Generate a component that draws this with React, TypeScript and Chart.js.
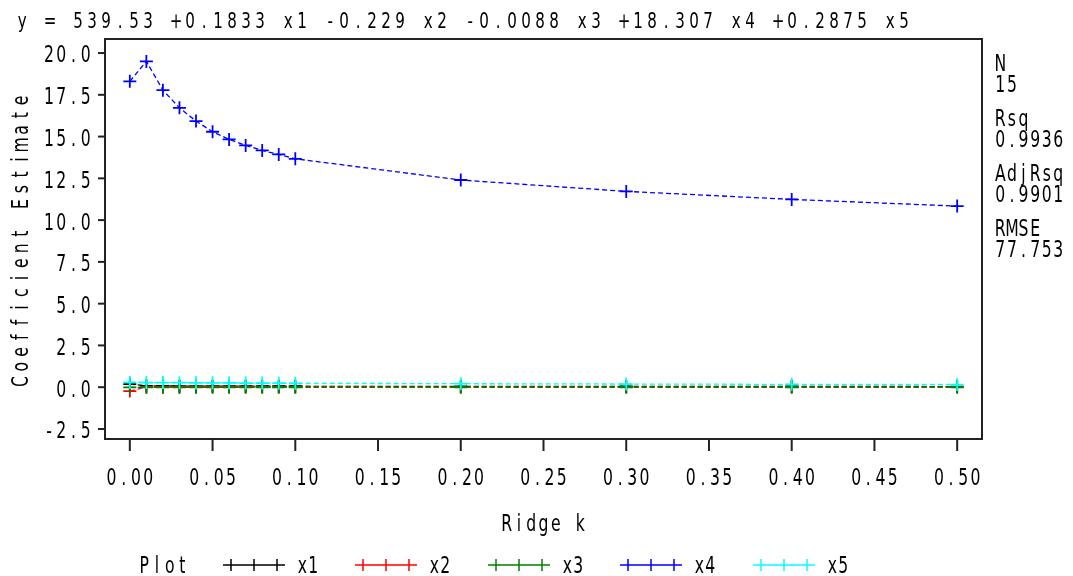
import React, { useEffect, useRef } from "react";
import { Chart, registerables } from "chart.js";

Chart.register(...registerables);

const kValues = [0, 0.01, 0.02, 0.03, 0.04, 0.05, 0.06, 0.07, 0.08, 0.09, 0.1, 0.2, 0.3, 0.4, 0.5];
const x1Values = [0.1833, 0.08, 0.075, 0.07, 0.068, 0.066, 0.064, 0.062, 0.06, 0.058, 0.056, 0.05, 0.046, 0.043, 0.04];
const x2Values = [-0.229, 0.01, 0.015, 0.018, 0.02, 0.021, 0.022, 0.022, 0.023, 0.023, 0.024, 0.025, 0.025, 0.025, 0.025];
const x3Values = [-0.0088, -0.006, -0.006, -0.005, -0.005, -0.005, -0.005, -0.005, -0.004, -0.004, -0.004, -0.004, -0.003, -0.003, -0.003];
const x4Values = [18.307, 19.5, 17.78, 16.72, 15.93, 15.29, 14.83, 14.47, 14.17, 13.93, 13.67, 12.4, 11.72, 11.24, 10.84];
const x5Values = [0.2875, 0.28, 0.275, 0.27, 0.265, 0.26, 0.255, 0.25, 0.245, 0.24, 0.235, 0.21, 0.19, 0.17, 0.16];

const seriesNames = ["x1", "x2", "x3", "x4", "x5"];
const seriesColors = ["#000000", "#ff0000", "#008000", "#0000ff", "#00ffff"];

const xTicks = [0, 0.05, 0.1, 0.15, 0.2, 0.25, 0.3, 0.35, 0.4, 0.45, 0.5];
const yTicks = [-2.5, 0, 2.5, 5, 7.5, 10, 12.5, 15, 17.5, 20];

const titleText = "y = 539.53 +0.1833 x1 -0.229 x2 -0.0088 x3 +18.307 x4 +0.2875 x5";
const xTitle = "Ridge k";
const yTitle = "Coefficient Estimate";
const statLines = ["N", "15", "Rsq", "0.9936", "AdjRsq", "0.9901", "RMSE", "77.753"];
const legendTitle = "Plot";

const FONT = "'DejaVu Sans', sans-serif";

function drawMono(
  ctx: CanvasRenderingContext2D,
  text: string,
  x: number,
  cy: number,
  adv: number,
  size: number,
  sx: number,
  align: "left" | "center" | "right"
) {
  const n = text.length;
  const glyphW = size * 0.55 * sx;
  const total = (n - 1) * adv + glyphW;
  let startCenter: number;
  if (align === "left") startCenter = x + glyphW / 2;
  else if (align === "right") startCenter = x - total + glyphW / 2;
  else startCenter = x - ((n - 1) * adv) / 2;
  const baseline = cy + (size * 0.73) / 2;
  ctx.save();
  ctx.font = `${size}px ${FONT}`;
  ctx.textAlign = "center";
  ctx.textBaseline = "alphabetic";
  ctx.fillStyle = "#000";
  for (let i = 0; i < n; i++) {
    const ch = text[i];
    if (ch === " ") continue;
    ctx.save();
    ctx.translate(startCenter + i * adv, baseline);
    ctx.scale(sx, 1);
    ctx.fillText(ch, 0, 0);
    ctx.restore();
  }
  ctx.restore();
}

const decorPlugin = {
  id: "decor",
  afterDraw(chart: any) {
    const ctx: CanvasRenderingContext2D = chart.ctx;
    const area = chart.chartArea;
    const xs = chart.scales.x;
    const ys = chart.scales.y;
    ctx.save();
    ctx.strokeStyle = "#222";
    ctx.lineWidth = 2;
    ctx.strokeRect(area.left, area.top, area.right - area.left, area.bottom - area.top);
    yTicks.forEach((v) => {
      const py = ys.getPixelForValue(v);
      ctx.beginPath();
      ctx.moveTo(area.left - 7, py);
      ctx.lineTo(area.left, py);
      ctx.stroke();
      drawMono(ctx, v.toFixed(1), 90, py + 1, 12.2, 23, 0.68, "right");
    });
    xTicks.forEach((v) => {
      const px = xs.getPixelForValue(v);
      ctx.beginPath();
      ctx.moveTo(px, area.bottom);
      ctx.lineTo(px, area.bottom + 12);
      ctx.stroke();
      drawMono(ctx, v.toFixed(2), px, 477, 12.2, 23, 0.68, "center");
    });
    ctx.restore();

    drawMono(ctx, titleText, 18, 20, 14.0, 21, 0.72, "left");
    drawMono(ctx, xTitle, (area.left + area.right) / 2, 523, 12.3, 23, 0.68, "center");
    ctx.save();
    ctx.translate(20, (area.top + area.bottom) / 2 + 2);
    ctx.rotate(-Math.PI / 2);
    drawMono(ctx, yTitle, 0, 0, 14.8, 23, 0.68, "center");
    ctx.restore();
    const statY = [63, 84, 118, 139, 173, 194, 228, 249];
    statLines.forEach((s, i) => drawMono(ctx, s, 996, statY[i], 11.6, 23, 0.68, "left"));

    const ly = 565;
    drawMono(ctx, legendTitle, 140, ly, 12.7, 23, 0.68, "left");
    const starts = [223, 355, 488, 620, 753];
    seriesNames.forEach((name, i) => {
      const x0 = starts[i];
      const x1 = x0 + 62;
      ctx.save();
      ctx.strokeStyle = seriesColors[i];
      ctx.lineWidth = 1.5;
      ctx.beginPath();
      ctx.moveTo(x0, ly);
      ctx.lineTo(x1, ly);
      [x0 + 8, (x0 + x1) / 2, x1 - 8].forEach((tx) => {
        ctx.moveTo(tx, ly - 6);
        ctx.lineTo(tx, ly + 6);
      });
      ctx.stroke();
      ctx.restore();
      drawMono(ctx, name, x1 + 13, ly, 11, 23, 0.68, "left");
    });
  },
};

export default function App() {
  const ref = useRef<HTMLCanvasElement | null>(null);
  useEffect(() => {
    document.body.style.margin = "0";
    const canvas = ref.current!;
    const allValues = [x1Values, x2Values, x3Values, x4Values, x5Values];
    const chart = new Chart(canvas, {
      type: "line",
      data: {
        datasets: allValues.map((vals, i) => ({
          label: seriesNames[i],
          data: kValues.map((k, j) => ({ x: k, y: vals[j] })),
          order: 5 - i,
          borderColor: seriesColors[i],
          backgroundColor: seriesColors[i],
          borderWidth: 1.3,
          borderDash: [5, 3],
          pointStyle: "cross",
          pointRadius: 6.5,
          pointBorderWidth: 1.8,
          pointBorderColor: seriesColors[i],
          tension: 0,
          fill: false,
        })),
      },
      options: {
        animation: false,
        responsive: false,
        devicePixelRatio: 1,
        layout: { padding: { left: 105, top: 39, right: 91, bottom: 137 } },
        scales: {
          x: { type: "linear", min: -0.015, max: 0.515, display: false },
          y: { type: "linear", min: -3.1, max: 20.84, display: false },
        },
        plugins: {
          legend: { display: false },
          tooltip: { enabled: false },
          title: { display: false },
        },
      },
      plugins: [decorPlugin],
    });
    return () => chart.destroy();
  }, []);
  return (
    <div style={{ position: "absolute", left: 0, top: 0, width: 1073, height: 576, background: "#fff" }}>
      <canvas ref={ref} width={1073} height={576} style={{ display: "block" }} />
    </div>
  );
}
